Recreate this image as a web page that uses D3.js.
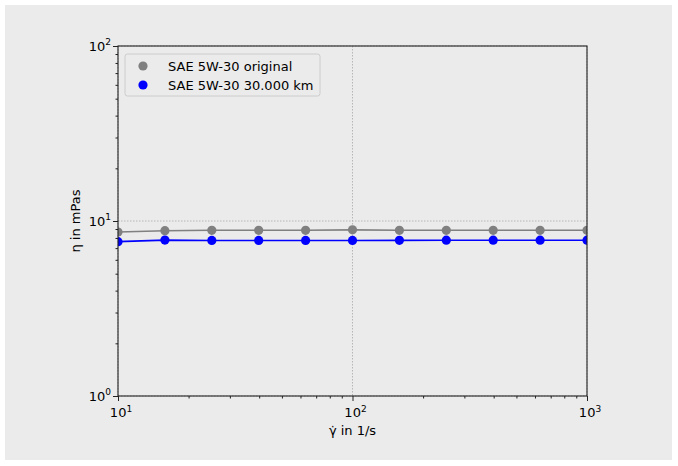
<!DOCTYPE html>
<html>
<head>
<meta charset="utf-8">
<script src="https://cdn.jsdelivr.net/npm/d3@7"></script>
<style>
  html, body { margin: 0; padding: 0; background: #fff; }
  svg { display: block; font-family: "DejaVu Sans", sans-serif; }
</style>
</head>
<body>
<svg id="chart" width="678" height="466"></svg>
<script>
/* Viscosity vs shear rate, log-log — two oil samples. */
(function () {
  'use strict';

  // ---- data ----
  var shearRate = [10, 15.85, 25.12, 39.81, 63.1, 100, 158.5, 251.2, 398.1, 631, 1000];
  var etaOriginal = [8.65, 8.8, 8.85, 8.85, 8.85, 8.9, 8.85, 8.85, 8.85, 8.85, 8.85];
  var etaUsed = [7.62, 7.78, 7.74, 7.74, 7.74, 7.74, 7.75, 7.77, 7.77, 7.77, 7.77];
  var seriesNames = ['SAE 5W-30 original', 'SAE 5W-30 30.000 km'];
  var seriesColors = ['#808080', '#0000ff'];
  var xDecades = [10, 100, 1000];
  var yDecades = [1, 10, 100];
  var xExp = ['1', '2', '3'];
  var yExp = ['0', '1', '2'];

  var W = 678, H = 466;
  var plot = { left: 118, right: 587, top: 46, bottom: 396 };
  var bg = '#ebebeb';
  var fs = 13;

  var svg = d3.select('#chart');

  // figure background (thin white margin round it)
  svg.append('rect').attr('x', 5).attr('y', 5).attr('width', W - 11).attr('height', H - 11)
    .attr('fill', bg);

  var x = d3.scaleLog().domain([10, 1000]).range([plot.left, plot.right]);
  var y = d3.scaleLog().domain([1, 100]).range([plot.bottom, plot.top]);

  svg.append('clipPath').attr('id', 'clip').append('rect')
    .attr('x', plot.left).attr('y', plot.top)
    .attr('width', plot.right - plot.left).attr('height', plot.bottom - plot.top);

  // grid at major ticks (dotted)
  var grid = svg.append('g').attr('stroke', '#b0b0b0').attr('stroke-width', 0.9)
    .attr('stroke-dasharray', '1.5 1.5');
  grid.selectAll('.gx').data(xDecades).enter().append('line')
    .attr('x1', function (d) { return x(d); }).attr('x2', function (d) { return x(d); })
    .attr('y1', plot.top).attr('y2', plot.bottom);
  grid.selectAll('.gy').data(yDecades).enter().append('line')
    .attr('y1', function (d) { return y(d); }).attr('y2', function (d) { return y(d); })
    .attr('x1', plot.left).attr('x2', plot.right);

  // series
  var series = [etaOriginal, etaUsed];
  var line = d3.line()
    .x(function (d) { return x(d[0]); })
    .y(function (d) { return y(d[1]); });
  var dataG = svg.append('g').attr('clip-path', 'url(#clip)');
  series.forEach(function (vals, i) {
    var pts = shearRate.map(function (r, j) { return [r, vals[j]]; });
    dataG.append('path').datum(pts).attr('d', line)
      .attr('fill', 'none').attr('stroke', seriesColors[i]).attr('stroke-width', 1.6);
    dataG.selectAll('.m' + i).data(pts).enter().append('circle')
      .attr('cx', function (d) { return x(d[0]); })
      .attr('cy', function (d) { return y(d[1]); })
      .attr('r', 4.6).attr('fill', seriesColors[i]);
  });

  // ticks via d3 axis generators (labels drawn separately with superscripts)
  var minorX = [], minorY = [];
  [10, 100].forEach(function (dec) {
    for (var k = 2; k <= 9; k++) minorX.push(dec * k);
  });
  [1, 10].forEach(function (dec) {
    for (var k = 2; k <= 9; k++) minorY.push(dec * k);
  });

  function styleAxis(g) {
    g.select('.domain').remove();
    g.selectAll('.tick line').attr('stroke', '#222').attr('stroke-width', 1);
    g.selectAll('.tick text').remove();
  }

  svg.append('g').attr('transform', 'translate(0,' + plot.bottom + ')')
    .call(d3.axisBottom(x).tickValues(xDecades).tickSize(5)).call(styleAxis);
  svg.append('g').attr('transform', 'translate(0,' + plot.bottom + ')')
    .call(d3.axisBottom(x).tickValues(minorX).tickSize(2.5)).call(styleAxis);
  svg.append('g').attr('transform', 'translate(' + plot.left + ',0)')
    .call(d3.axisLeft(y).tickValues(yDecades).tickSize(5)).call(styleAxis);
  svg.append('g').attr('transform', 'translate(' + plot.left + ',0)')
    .call(d3.axisLeft(y).tickValues(minorY).tickSize(2.5)).call(styleAxis);

  // spines
  svg.append('rect').attr('x', plot.left).attr('y', plot.top)
    .attr('width', plot.right - plot.left).attr('height', plot.bottom - plot.top)
    .attr('fill', 'none').attr('stroke', '#222').attr('stroke-width', 1.1);

  // tick labels 10^n
  function powLabel(g, px, py, exp, anchor) {
    var t = g.append('text').attr('x', px).attr('y', py).attr('text-anchor', anchor)
      .attr('font-size', fs).attr('fill', '#000');
    t.append('tspan').text('10');
    t.append('tspan').attr('font-size', 9).attr('dy', -5.5).text(exp);
  }
  var labels = svg.append('g');
  xDecades.forEach(function (d, i) {
    powLabel(labels, x(d) + 3, plot.bottom + 21, xExp[i], 'middle');
  });
  yDecades.forEach(function (d, i) {
    powLabel(labels, plot.left - 7, y(d) + 4.5, yExp[i], 'end');
  });

  // axis titles
  svg.append('text').attr('x', (plot.left + plot.right) / 2).attr('y', 435)
    .attr('text-anchor', 'middle').attr('font-size', fs).text('\u03b3\u0307 in 1/s');
  svg.append('text')
    .attr('transform', 'translate(80,' + ((plot.top + plot.bottom) / 2) + ') rotate(-90)')
    .attr('text-anchor', 'middle').attr('font-size', fs).text('\u03b7 in mPas');

  // legend
  var leg = svg.append('g').attr('transform', 'translate(125,54)');
  leg.append('rect').attr('width', 195).attr('height', 42).attr('rx', 2.5)
    .attr('fill', bg).attr('fill-opacity', 0.8)
    .attr('stroke', '#cccccc').attr('stroke-width', 1);
  seriesNames.forEach(function (name, i) {
    var cy = 12 + i * 19;
    leg.append('circle').attr('cx', 18).attr('cy', cy).attr('r', 4.6).attr('fill', seriesColors[i]);
    leg.append('text').attr('x', 43).attr('y', cy + 4.8).attr('font-size', fs).text(name);
  });
})();
</script>
</body>
</html>
